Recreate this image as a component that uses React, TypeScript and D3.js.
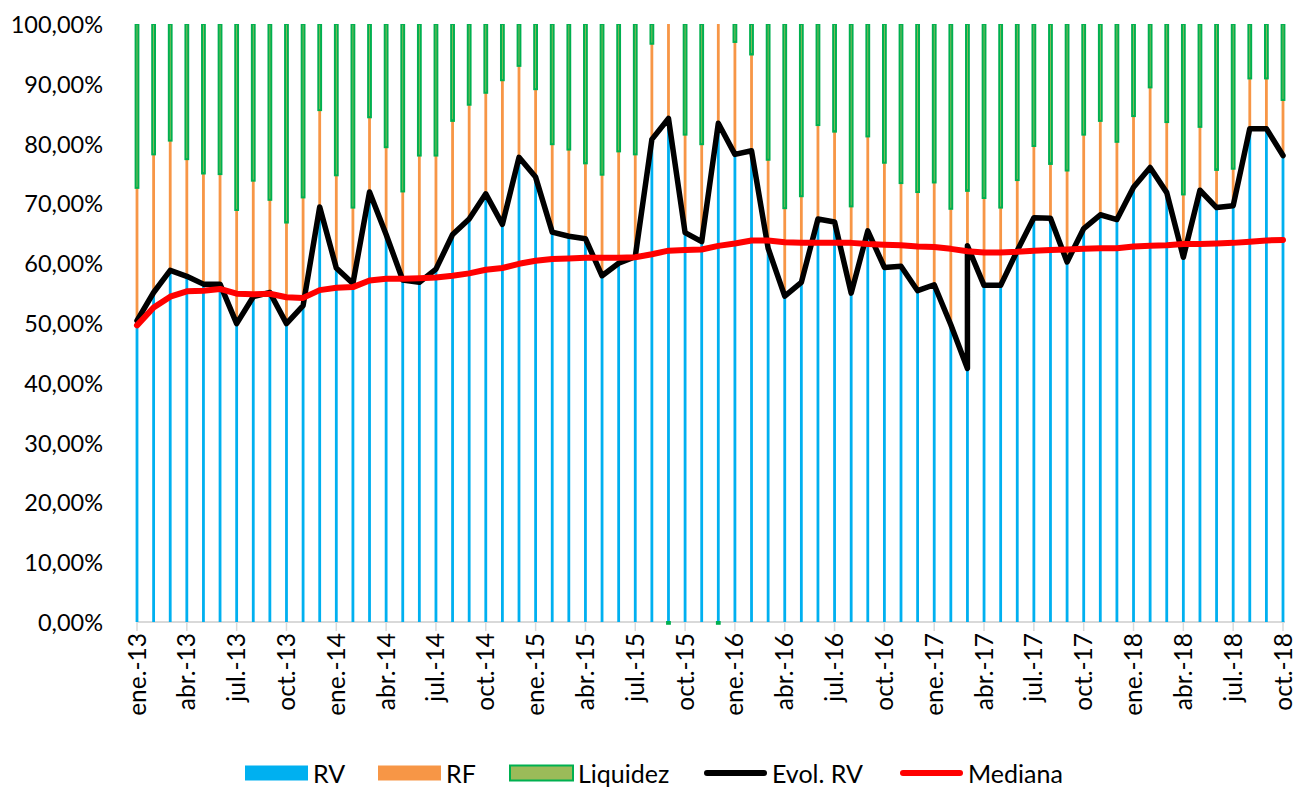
import React from "react";
import * as d3 from "d3";

// monthly series, ene.-13 .. oct.-18 (values in %)
const monthNames = ["ene.", "feb.", "mar.", "abr.", "may.", "jun.", "jul.", "ago.", "sept.", "oct.", "nov.", "dic."];
const years = ["13", "14", "15", "16", "17", "18"];
const months = years.flatMap((y) => monthNames.map((m) => `${m}-${y}`)).slice(0, 70);

const rv = [
  50.4, 55.1, 58.8, 57.8, 56.5, 56.5, 49.9, 54.4, 55.1, 49.9, 52.9, 69.4,
  59.2, 56.6, 71.9, 64.8, 57.2, 56.8, 59.0, 64.8, 67.4, 71.6, 66.5, 77.7,
  74.4, 65.2, 64.5, 64.1, 57.9, 60.0, 61.1, 80.7, 84.2, 65.1, 63.6, 83.4,
  78.2, 78.8, 62.5, 54.5, 56.8, 67.4, 66.9, 55.0, 65.4, 59.3, 59.5, 55.4,
  56.4, 49.7, 42.4, 56.3, 56.3, 62.1, 67.6, 67.5, 60.2, 65.8, 68.1, 67.3,
  72.7, 76.0, 71.8, 61.0, 72.2, 69.3, 69.6, 82.5, 82.5, 78.0,
];

const rf = [
  22.2, 23.1, 21.7, 19.6, 18.5, 18.4, 19.0, 19.4, 15.5, 16.9, 18.1, 16.2,
  15.5, 12.7, 12.5, 14.6, 14.8, 21.2, 19.0, 19.0, 19.1, 16.9, 24.1, 15.3,
  14.7, 14.7, 14.5, 12.6, 16.9, 18.7, 17.1, 16.0, 16.1, 16.4, 16.3, 16.9,
  18.8, 16.1, 14.8, 14.7, 14.4, 15.7, 15.1, 14.5, 15.8, 17.5, 13.9, 16.5,
  17.1, 19.4, 29.7, 14.6, 13.0, 11.8, 12.0, 9.1, 15.3, 15.7, 15.7, 13.0,
  11.9, 13.4, 11.8, 10.5, 10.6, 6.3, 6.2, 8.4, 8.4, 9.3,
];

const liquidez = [
  27.4, 21.8, 19.5, 22.6, 25.0, 25.1, 31.1, 26.2, 29.4, 33.2, 29.0, 14.4,
  25.3, 30.7, 15.6, 20.6, 28.0, 22.0, 22.0, 16.2, 13.5, 11.5, 9.4, 7.0,
  10.9, 20.1, 21.0, 23.3, 25.2, 21.3, 21.8, 3.3, -0.3, 18.5, 20.1, -0.3,
  3.0, 5.1, 22.7, 30.8, 28.8, 16.9, 18.0, 30.5, 18.8, 23.2, 26.6, 28.1,
  26.5, 30.9, 27.9, 29.1, 30.7, 26.1, 20.4, 23.4, 24.5, 18.5, 16.2, 19.7,
  15.4, 10.6, 16.4, 28.5, 17.2, 24.4, 24.2, 9.1, 9.1, 12.7,
];

// second reading of Evol. RV in the same month
const evolExtra = { month: "mar.-17", value: 62.9 };

const mediana = [
  49.6, 52.6, 54.4, 55.3, 55.4, 55.7, 54.9, 54.8, 54.9, 54.3, 54.2, 55.5,
  55.9, 56.0, 57.1, 57.4, 57.4, 57.5, 57.6, 57.9, 58.3, 58.9, 59.2, 59.9,
  60.4, 60.7, 60.8, 60.9, 60.9, 60.9, 61.0, 61.5, 62.1, 62.2, 62.3, 62.9,
  63.3, 63.8, 63.8, 63.5, 63.4, 63.4, 63.4, 63.4, 63.2, 63.1, 63.0, 62.8,
  62.7, 62.4, 62.0, 61.8, 61.8, 61.9, 62.1, 62.2, 62.3, 62.4, 62.5, 62.5,
  62.8, 62.9, 63.0, 63.2, 63.2, 63.3, 63.4, 63.6, 63.8, 63.9,
];

const yTicks = [0, 10, 20, 30, 40, 50, 60, 70, 80, 90, 100];
const tickMonths = months.filter((_, i) => i % 3 === 0);

const FONT = "Lato, 'Open Sans', sans-serif";

export default function App() {
  const W = 1295, H = 789;
  const x = d3.scalePoint<string>().domain(months).range([137, 1283]);
  const y = d3.scaleLinear().domain([0, 100]).range([622, 24]);
  const pct = d3.formatLocale({ decimal: ",", thousands: ".", grouping: [3], currency: ["", "€"] }).format(".2f");

  const rows = months.map((m, i) => ({ month: m, rv: rv[i], rf: rf[i], liq: liquidez[i] }));
  const stack = d3.stack<any>().keys(["rv", "rf", "liq"]).offset(d3.stackOffsetDiverging)(rows);
  const colors: Record<string, { fill: string; stroke: string }> = {
    rv: { fill: "#00b0f0", stroke: "none" },
    rf: { fill: "#f79646", stroke: "none" },
    liq: { fill: "#9bbb59", stroke: "#00b050" },
  };

  const evolPts: { month: string; value: number }[] = [];
  months.forEach((m, i) => {
    evolPts.push({ month: m, value: rv[i] });
    if (m === evolExtra.month) evolPts.push(evolExtra);
  });
  const medPts = months.map((m, i) => ({ month: m, value: mediana[i] }));
  const line = d3.line<{ month: string; value: number }>()
    .x((d) => x(d.month)!)
    .y((d) => y(d.value));

  const bw = 2.8;

  const legend = [
    { label: "RV", type: "box", fill: "#00b0f0", stroke: "none", x0: 245 },
    { label: "RF", type: "box", fill: "#f79646", stroke: "none", x0: 378 },
    { label: "Liquidez", type: "box", fill: "#9bbb59", stroke: "#00b050", x0: 510 },
    { label: "Evol. RV", type: "line", fill: "#000000", stroke: "#000000", x0: 704 },
    { label: "Mediana", type: "line", fill: "#ff0000", stroke: "#ff0000", x0: 900 },
  ];
  const legY = 773;

  return (
    <svg width={W} height={H} style={{ position: "absolute", left: 0, top: 0, background: "#fff" }} fontFamily={FONT}>
      <defs>
        <clipPath id="plotClip">
          <rect x={100} y={y(100)} width={1200} height={640 - y(100)} />
        </clipPath>
      </defs>

      {/* y axis labels */}
      {yTicks.map((t) => (
        <text key={t} x={103} y={y(t)} textAnchor="end" dominantBaseline="central" fontSize={23.5} fill="#000">
          {pct(t)}%
        </text>
      ))}

      {/* x axis */}
      <line x1={x(months[0])!} x2={x(months[months.length - 1])! + 2} y1={y(0)} y2={y(0)} stroke="#d9d9d9" strokeWidth={2} />
      {tickMonths.map((m) => (
        <line key={m} x1={x(m)!} x2={x(m)!} y1={y(0)} y2={y(0) + 9} stroke="#d9d9d9" strokeWidth={1.5} />
      ))}
      {tickMonths.map((m) => (
        <text key={m} transform={`translate(${x(m)! - 1},633) rotate(-90)`} textAnchor="end" dominantBaseline="central" fontSize={24.5} fill="#000">
          {m}
        </text>
      ))}

      {/* stacked bars */}
      <g clipPath="url(#plotClip)">
        {stack.map((s) => (
          <g key={s.key}>
            {s.map((d, i) => {
              const top = y(Math.max(d[0], d[1]));
              const bot = y(Math.min(d[0], d[1]));
              if (bot - top <= 0) return null;
              return (
                <rect key={i} x={x(months[i])! - bw / 2} y={top} width={bw} height={bot - top}
                  fill={colors[s.key].fill} stroke={colors[s.key].stroke} strokeWidth={colors[s.key].stroke === "none" ? 0 : 2} />
              );
            })}
          </g>
        ))}
      </g>

      {/* lines */}
      <path d={line(evolPts)!} fill="none" stroke="#000" strokeWidth={5.5} strokeLinejoin="round" strokeLinecap="round" />
      <path d={line(medPts)!} fill="none" stroke="#ff0000" strokeWidth={6} strokeLinejoin="round" strokeLinecap="round" />

      {/* legend */}
      {legend.map((l) => (
        <g key={l.label}>
          {l.type === "box" ? (
            <rect x={l.x0} y={legY - 7.5} width={63} height={15} fill={l.fill} stroke={l.stroke} strokeWidth={l.stroke === "none" ? 0 : 2} />
          ) : (
            <line x1={l.x0 + 3} x2={l.x0 + 60} y1={legY} y2={legY} stroke={l.stroke} strokeWidth={6} strokeLinecap="round" />
          )}
          <text x={l.x0 + 68} y={legY} dominantBaseline="central" fontSize={25} fill="#000">{l.label}</text>
        </g>
      ))}
    </svg>
  );
}
